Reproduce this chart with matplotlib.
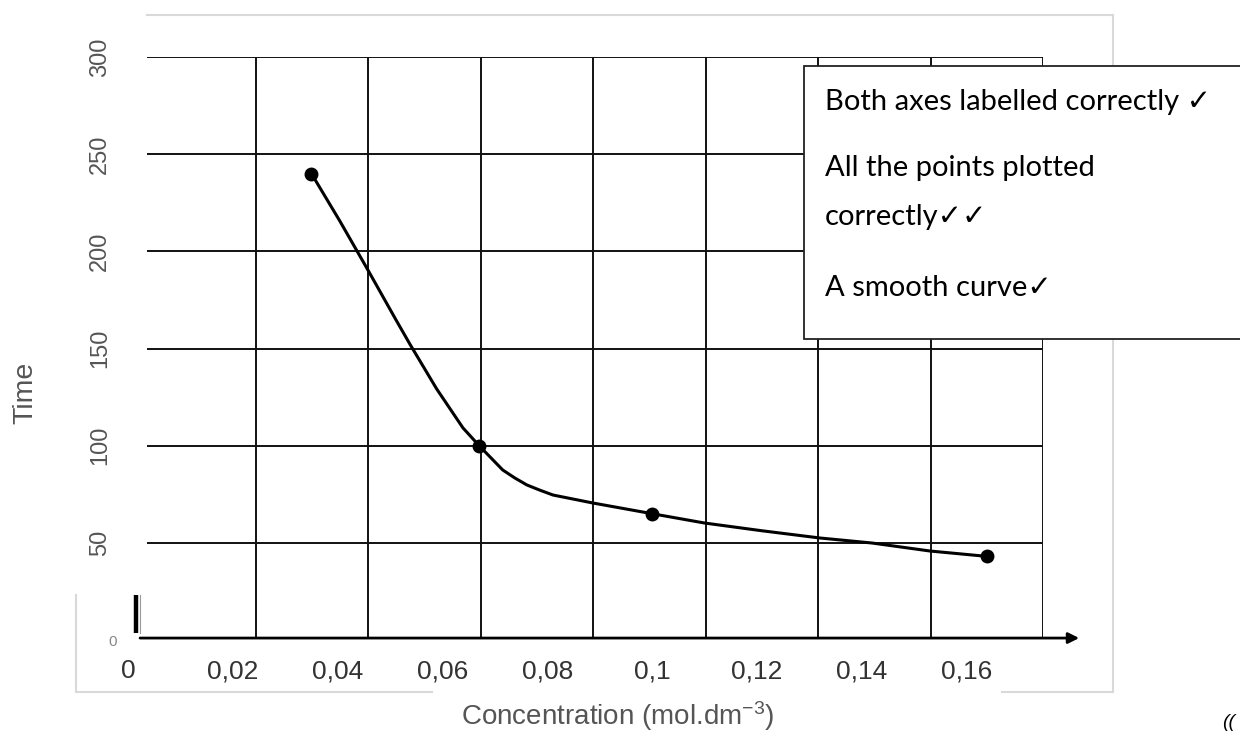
import numpy as np
import matplotlib.pyplot as plt
from matplotlib.lines import Line2D
from matplotlib.patches import Rectangle

plt.rcParams['font.family'] = ['Liberation Sans', 'DejaVu Sans']
plt.rcParams['mathtext.default'] = 'regular'

# measured points
conc = [0.035, 0.067, 0.1, 0.164]
time = [240, 100, 65, 43]

# smooth curve
curve_x = [0.035, 0.0404, 0.0458, 0.0511, 0.0538, 0.0589, 0.0639, 0.067, 0.0715,
           0.0738, 0.0761, 0.0785, 0.0811, 0.0887, 0.1, 0.11, 0.121, 0.132,
           0.142, 0.153, 0.164]
curve_y = [240, 215.7, 190.3, 164.9, 152.2, 129.2, 109.2, 100, 87.5,
           83.4, 79.8, 77.2, 74.6, 70.5, 65, 60.2, 56.2, 52.5,
           49.9, 45.8, 43]

xticks = [0, 0.02, 0.04, 0.06, 0.08, 0.1, 0.12, 0.14, 0.16]
xticklabels = ['0', '0,02', '0,04', '0,06', '0,08', '0,1', '0,12', '0,14', '0,16']
yticks = [50, 100, 150, 200, 250, 300]

notes = ['Both axes labelled correctly \u2713',
         'All the points plotted',
         'correctly\u2713\u2713',
         'A smooth curve\u2713']

W, H = 1240, 735


def fx(px):
    return px / W


def fy(py):
    return 1 - py / H


fig = plt.figure(figsize=(12.4, 7.35), dpi=100)
ax = fig.add_axes([fx(128), fy(640), fx(1043) - fx(128), fy(57) - fy(640)])
ax.set_xlim(0, 0.1746)
ax.set_ylim(0, 300)
for s in ax.spines.values():
    s.set_visible(False)

# grid (drawn by hand, it does not line up with the tick labels)
grid_x = np.linspace(0.0244, 0.1746, 8)
ax.vlines(grid_x, 1, 300, color='#111111', lw=1.4, zorder=1)
ax.hlines(yticks, 0.0036, 0.1746, color='#111111', lw=1.4, zorder=1)

# x axis with arrow
ax.annotate('', xy=(0.1815, 1), xytext=(0.0023, 1),
            arrowprops=dict(arrowstyle='-|>', color='black', lw=2.0,
                            mutation_scale=16, shrinkA=0, shrinkB=0),
            annotation_clip=False, zorder=3)
ax.plot([0.0015, 0.0015], [3.6, 23], color='black', lw=3.2, clip_on=False,
        solid_capstyle='butt')
ax.plot([0.0023, 0.0023], [3.6, 23], color='#9a9a9a', lw=0.8, clip_on=False)

ax.plot(curve_x, curve_y, color='black', lw=2.2, zorder=4,
        solid_joinstyle='round')
ax.plot(conc, time, 'o', color='black', markersize=9, zorder=5)

ax.set_xticks(xticks)
ax.set_xticklabels(xticklabels, fontsize=19, color='#333333')
ax.set_yticks(yticks)
ax.set_yticklabels([str(v) for v in yticks], fontsize=17, color='#555555',
                   rotation=90, va='center')
ax.tick_params(axis='x', length=0, pad=14)
ax.tick_params(axis='y', length=0, pad=12)
ax.text(-0.0029, -1, '0', fontsize=11, color='#888888', ha='center', va='center')

fig.text(fx(25), fy(393), 'Time', rotation=90, fontsize=20.5, color='#555555',
         ha='center', va='center')
fig.text(fx(618), fy(716), 'Concentration (mol.dm$^{-3}$)', fontsize=20,
         color='#555555', ha='center', va='center')

# light frame of the pasted chart
gray = '#d9d9d9'
frame = [((147, 15), (1113, 15)), ((1113, 15), (1113, 692)),
         ((76, 692), (432, 692)), ((1002, 692), (1113, 692)),
         ((76, 595), (76, 692))]
for (x0, y0), (x1, y1) in frame:
    fig.add_artist(Line2D([fx(x0), fx(x1)], [fy(y0), fy(y1)], color=gray, lw=1.5,
                          zorder=0))

# marking box
box = Rectangle((fx(804), fy(339)), fx(1245) - fx(804), fy(66) - fy(339),
                transform=fig.transFigure, facecolor='white', edgecolor='#222222',
                lw=1.3, zorder=10)
fig.add_artist(box)
for txt, py in zip(notes, [102, 168, 217, 288]):
    fig.text(fx(825), fy(py), txt, fontsize=21, family=['Lato', 'DejaVu Sans'],
             color='black', ha='left', va='center', zorder=11)

fig.text(fx(1222), fy(731), '((', fontsize=14, color='black', style='italic',
         ha='left', va='bottom')

fig.savefig('out.png', dpi=100)
